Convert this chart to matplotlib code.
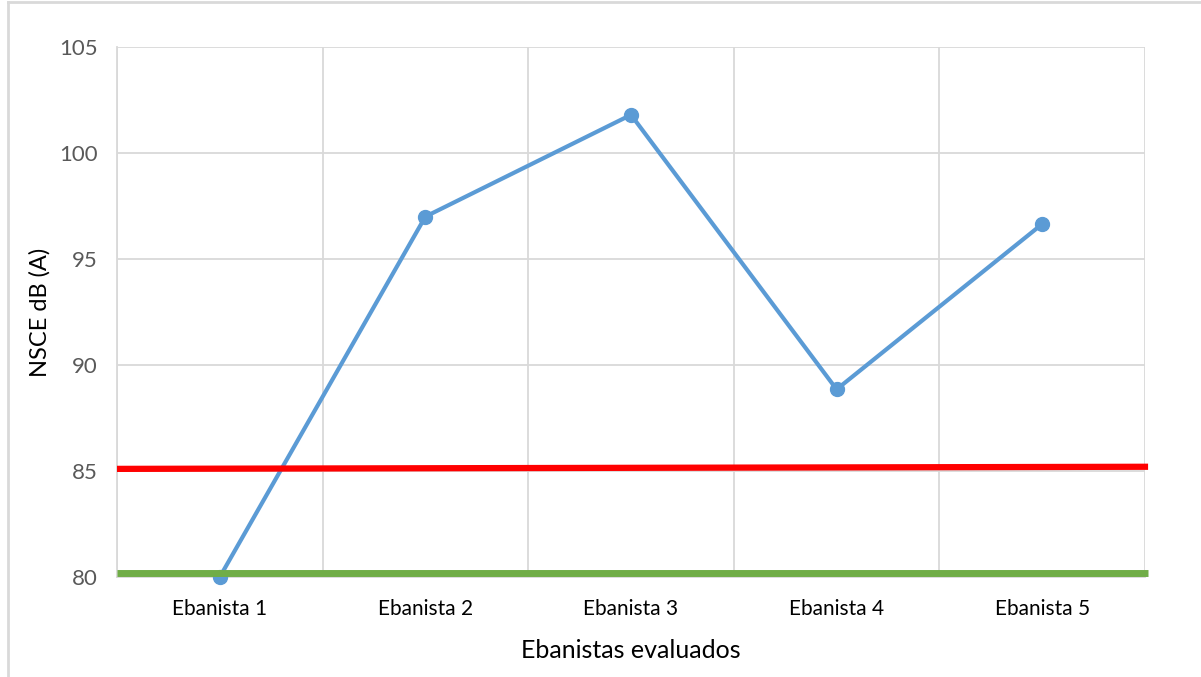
import matplotlib
matplotlib.use('Agg')
import matplotlib.pyplot as plt
from matplotlib.lines import Line2D

# NSCE per worker and the two reference limits
categories = ['Ebanista 1', 'Ebanista 2', 'Ebanista 3', 'Ebanista 4', 'Ebanista 5']
nsce = [80.0, 97.0, 101.8, 88.85, 96.65]
limit_red = [85.1, 85.2]     # left / right end
limit_green = [80.2, 80.2]
yticks = [80, 85, 90, 95, 100, 105]

BLUE = '#5B9BD5'
GRID = '#D9D9D9'
plt.rcParams['font.family'] = ['Lato', 'DejaVu Sans']

fig = plt.figure(figsize=(12.01, 6.77), dpi=100)
ax = fig.add_axes([117 / 1201, 1 - 577 / 677, (1145 - 117) / 1201, (577 - 47) / 677])

x = list(range(len(categories)))
ax.set_xlim(-0.5, len(categories) - 0.5)
ax.set_ylim(80, 105)

# category boundaries as vertical grid
for b in [i - 0.5 for i in range(len(categories) + 1)]:
    ax.axvline(b, color=GRID, lw=1.3, zorder=0)
for t in yticks[1:]:
    ax.axhline(t, color=GRID, lw=1.3, zorder=0)

ax.plot(x, nsce, color=BLUE, lw=3, marker='o', ms=10, zorder=3, clip_on=False)

xe = [-0.5, len(categories) - 0.5 + 0.015]
ax.plot(xe, limit_red, color='#FF0000', lw=4.5, zorder=4, clip_on=False, solid_capstyle='butt')
ax.plot(xe, limit_green, color='#70AD47', lw=5, zorder=4, clip_on=False, solid_capstyle='butt')

ax.set_xticks(x)
ax.set_xticklabels(categories, fontsize=15, color='#000000')
ax.set_yticks(yticks)
ax.set_yticklabels([str(t) for t in yticks], fontsize=16, color='#595959')
ax.tick_params(axis='both', length=0)
ax.tick_params(axis='x', pad=16)
ax.tick_params(axis='y', pad=14)
for s in ('top', 'right'):
    ax.spines[s].set_visible(False)
ax.spines['left'].set_color(GRID)
ax.spines['bottom'].set_color(GRID)
ax.spines['left'].set_linewidth(1.3)
ax.spines['bottom'].set_linewidth(1.3)

ax.set_xlabel('Ebanistas evaluados', fontsize=18, labelpad=14)
ax.set_ylabel('NSCE dB (A)', fontsize=17, labelpad=6)

# chart frame (left and top edges)
fig.add_artist(Line2D([8 / 1201, 8 / 1201], [0, 1 - 2 / 677], color=GRID, lw=2))
fig.add_artist(Line2D([8 / 1201, 1], [1 - 2 / 677, 1 - 2 / 677], color=GRID, lw=2))

fig.savefig('out.png', facecolor='white')
